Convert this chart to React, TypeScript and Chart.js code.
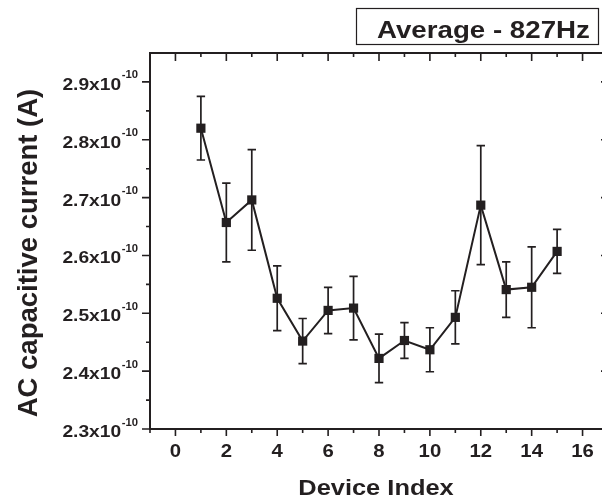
import React, { useEffect, useRef } from 'react';
import { Chart, registerables } from 'chart.js';

Chart.register(...registerables);

// ---- data (current in amperes) ----
const deviceIndex = [1, 2, 3, 4, 5, 6, 7, 8, 9, 10, 11, 12, 13, 14, 15];
const acCurrent = [
  2.82e-10, 2.657e-10, 2.696e-10, 2.526e-10, 2.452e-10, 2.505e-10, 2.509e-10, 2.422e-10,
  2.453e-10, 2.437e-10, 2.493e-10, 2.687e-10, 2.541e-10, 2.545e-10, 2.607e-10,
];
const acError = [
  0.055e-10, 0.068e-10, 0.087e-10, 0.056e-10, 0.039e-10, 0.04e-10, 0.055e-10, 0.042e-10,
  0.031e-10, 0.038e-10, 0.046e-10, 0.103e-10, 0.048e-10, 0.07e-10, 0.038e-10,
];

const xMajorTicks = [0, 2, 4, 6, 8, 10, 12, 14, 16];
const xMinorTicks = [-1, 1, 3, 5, 7, 9, 11, 13, 15, 17];
const yMajorTicks = [2.3e-10, 2.4e-10, 2.5e-10, 2.6e-10, 2.7e-10, 2.8e-10, 2.9e-10];
const yMinorTicks = [2.35e-10, 2.45e-10, 2.55e-10, 2.65e-10, 2.75e-10, 2.85e-10];
const yTickMantissa = ['2.3', '2.4', '2.5', '2.6', '2.7', '2.8', '2.9'];
const yTickExponent = '-10';

const chartTitle = 'Average - 827Hz';
const xTitle = 'Device Index';
const yTitle = 'AC capacitive current (A)';

const INK = '#231f20';
const FONT = '"Liberation Sans", Arial, sans-serif';
const SX = 1.13; // horizontal stretch of the lettering

function wideText(ctx: any, text: string, x: number, y: number, align: string) {
  ctx.save();
  ctx.translate(x, y);
  ctx.scale(SX, 1);
  ctx.textAlign = align;
  ctx.fillText(text, 0, 0);
  ctx.restore();
}

const originPlugin = {
  id: 'originFrame',
  beforeDatasetsDraw(chart: any) {
    const { ctx } = chart;
    const x = chart.scales.x;
    const y = chart.scales.y;
    ctx.save();
    ctx.strokeStyle = INK;
    ctx.lineWidth = 1.7;
    deviceIndex.forEach((d, i) => {
      const px = x.getPixelForValue(d);
      const top = y.getPixelForValue(acCurrent[i] + acError[i]);
      const bot = y.getPixelForValue(acCurrent[i] - acError[i]);
      ctx.beginPath();
      ctx.moveTo(px, top);
      ctx.lineTo(px, bot);
      ctx.moveTo(px - 4.2, top);
      ctx.lineTo(px + 4.2, top);
      ctx.moveTo(px - 4.2, bot);
      ctx.lineTo(px + 4.2, bot);
      ctx.stroke();
    });
    ctx.restore();
  },
  afterDraw(chart: any) {
    const { ctx, chartArea } = chart;
    const x = chart.scales.x;
    const y = chart.scales.y;
    const { left, right, top, bottom } = chartArea;
    ctx.save();
    ctx.strokeStyle = INK;
    ctx.fillStyle = INK;

    // frame
    ctx.lineWidth = 2;
    ctx.strokeRect(left, top, right - left, bottom - top);

    // ticks
    ctx.lineWidth = 1.6;
    ctx.beginPath();
    const xt = (vals: number[], len: number, lenTop: number) => {
      vals.forEach((v) => {
        const px = x.getPixelForValue(v);
        ctx.moveTo(px, bottom);
        ctx.lineTo(px, bottom + len);
        ctx.moveTo(px, top);
        ctx.lineTo(px, top + lenTop);
      });
    };
    xt(xMajorTicks, 7, 8);
    xt(xMinorTicks, 4, 4);
    const yt = (vals: number[], len: number, lenRight: number) => {
      vals.forEach((v) => {
        const py = y.getPixelForValue(v);
        ctx.moveTo(left, py);
        ctx.lineTo(left - len, py);
        ctx.moveTo(right, py);
        ctx.lineTo(right - lenRight, py);
      });
    };
    yt(yMajorTicks, 8, 7);
    yt(yMinorTicks, 4, 4);
    ctx.stroke();

    ctx.textBaseline = 'alphabetic';

    // x tick labels
    ctx.font = `bold 18px ${FONT}`;
    xMajorTicks.forEach((v) => {
      wideText(ctx, String(v), x.getPixelForValue(v), bottom + 28, 'center');
    });

    // y tick labels with superscript exponent
    const supFont = `bold 10px ${FONT}`;
    const baseFont = `bold 17px ${FONT}`;
    ctx.font = supFont;
    const supW = ctx.measureText(yTickExponent).width * SX;
    const labelRight = 138;
    yMajorTicks.forEach((v, i) => {
      const py = y.getPixelForValue(v);
      ctx.font = supFont;
      wideText(ctx, yTickExponent, labelRight, py - 3.5, 'right');
      ctx.font = baseFont;
      wideText(ctx, yTickMantissa[i] + 'x10', labelRight - supW - 0.5, py + 8, 'right');
    });

    // axis titles
    ctx.font = `bold 22.5px ${FONT}`;
    wideText(ctx, xTitle, 376, 495, 'center');

    ctx.save();
    ctx.translate(29, 253);
    ctx.rotate(-Math.PI / 2);
    ctx.font = `bold 27.5px ${FONT}`;
    ctx.textAlign = 'center';
    ctx.textBaseline = 'middle';
    ctx.fillText(yTitle, 0, 0);
    ctx.restore();

    // title box
    ctx.lineWidth = 1.2;
    ctx.strokeRect(356.5, 8.5, 242, 36);
    ctx.font = `bold 24.5px ${FONT}`;
    ctx.textBaseline = 'alphabetic';
    wideText(ctx, chartTitle, 377, 37.5, 'left');
    ctx.restore();
  },
};

export default function App() {
  const canvasRef = useRef<HTMLCanvasElement | null>(null);

  useEffect(() => {
    const canvas = canvasRef.current;
    if (!canvas) return;
    const chart = new Chart(canvas, {
      type: 'line',
      data: {
        datasets: [
          {
            label: 'Average - 827Hz',
            data: deviceIndex.map((d, i) => ({ x: d, y: acCurrent[i] })),
            borderColor: INK,
            backgroundColor: INK,
            borderWidth: 2,
            pointStyle: 'rect',
            pointRadius: 6.5,
            pointBorderWidth: 0,
            pointBackgroundColor: INK,
            tension: 0,
          },
        ],
      },
      options: {
        responsive: false,
        maintainAspectRatio: false,
        animation: false,
        devicePixelRatio: 1,
        layout: { padding: { top: 53, right: 12, left: 0, bottom: 0 } },
        plugins: {
          legend: { display: false },
          tooltip: { enabled: false },
          title: { display: false },
        },
        scales: {
          x: {
            type: 'linear',
            min: -1,
            max: 17,
            grid: { display: false, drawTicks: false },
            border: { display: false },
            ticks: { display: false },
            afterFit: (s: any) => {
              s.height = 75;
            },
          },
          y: {
            type: 'linear',
            min: 2.3e-10,
            max: 2.95e-10,
            grid: { display: false, drawTicks: false },
            border: { display: false },
            ticks: { display: false },
            afterFit: (s: any) => {
              s.width = 150;
            },
          },
        },
      },
      plugins: [originPlugin],
    } as any);
    return () => chart.destroy();
  }, []);

  return (
    <div
      style={{
        position: 'fixed',
        left: 0,
        top: 0,
        width: 602,
        height: 504,
        overflow: 'hidden',
        background: '#fff',
      }}
    >
      <canvas ref={canvasRef} width={620} height={504} style={{ width: 620, height: 504, display: 'block' }} />
    </div>
  );
}
